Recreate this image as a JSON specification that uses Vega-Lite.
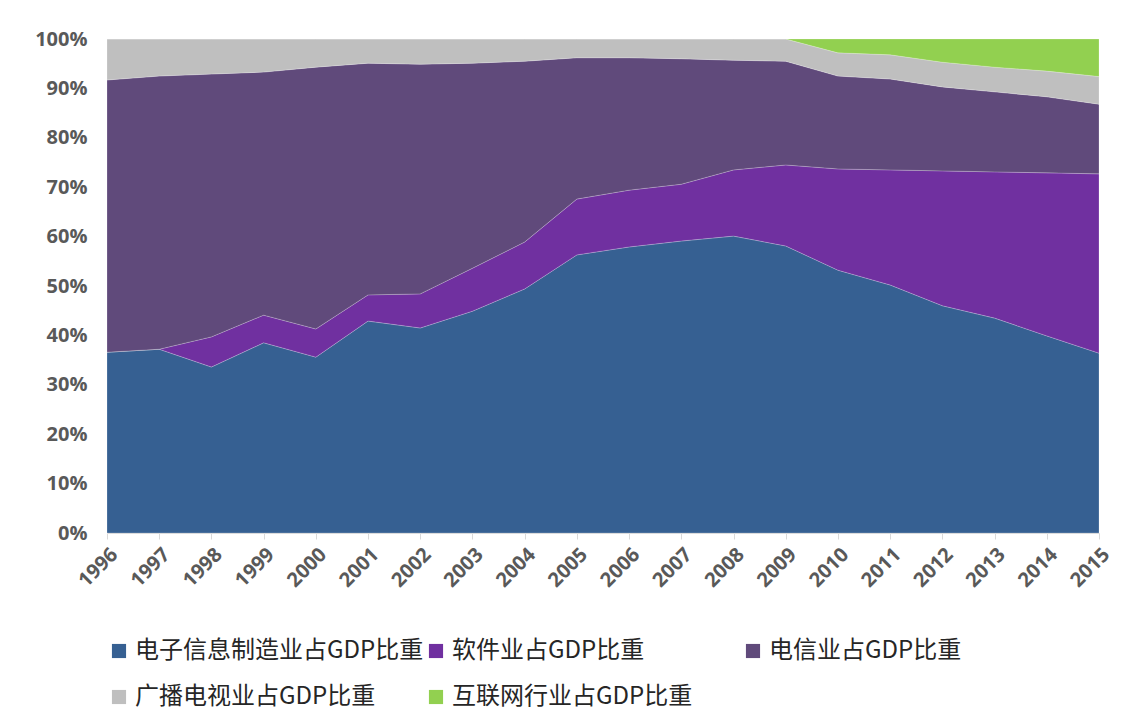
{
  "$schema": "https://vega.github.io/schema/vega-lite/v6.json",
  "width": 992,
  "height": 494,
  "autosize": {"type": "none"},
  "padding": {"left": 107, "top": 39, "right": 38, "bottom": 193},
  "background": "#ffffff",
  "config": {
    "view": {"stroke": null},
    "font": "Noto Sans CJK SC"
  },
  "data": {
    "values": [
      {"year": "1996", "series": "电子信息制造业占GDP比重", "value": 36.6},
      {"year": "1996", "series": "软件业占GDP比重", "value": 0},
      {"year": "1996", "series": "电信业占GDP比重", "value": 55.1},
      {"year": "1996", "series": "广播电视业占GDP比重", "value": 8.3},
      {"year": "1996", "series": "互联网行业占GDP比重", "value": 0},
      {"year": "1997", "series": "电子信息制造业占GDP比重", "value": 37.2},
      {"year": "1997", "series": "软件业占GDP比重", "value": 0},
      {"year": "1997", "series": "电信业占GDP比重", "value": 55.3},
      {"year": "1997", "series": "广播电视业占GDP比重", "value": 7.5},
      {"year": "1997", "series": "互联网行业占GDP比重", "value": 0},
      {"year": "1998", "series": "电子信息制造业占GDP比重", "value": 33.6},
      {"year": "1998", "series": "软件业占GDP比重", "value": 6.1},
      {"year": "1998", "series": "电信业占GDP比重", "value": 53.2},
      {"year": "1998", "series": "广播电视业占GDP比重", "value": 7.1},
      {"year": "1998", "series": "互联网行业占GDP比重", "value": 0},
      {"year": "1999", "series": "电子信息制造业占GDP比重", "value": 38.5},
      {"year": "1999", "series": "软件业占GDP比重", "value": 5.6},
      {"year": "1999", "series": "电信业占GDP比重", "value": 49.2},
      {"year": "1999", "series": "广播电视业占GDP比重", "value": 6.7},
      {"year": "1999", "series": "互联网行业占GDP比重", "value": 0},
      {"year": "2000", "series": "电子信息制造业占GDP比重", "value": 35.6},
      {"year": "2000", "series": "软件业占GDP比重", "value": 5.7},
      {"year": "2000", "series": "电信业占GDP比重", "value": 53.0},
      {"year": "2000", "series": "广播电视业占GDP比重", "value": 5.7},
      {"year": "2000", "series": "互联网行业占GDP比重", "value": 0},
      {"year": "2001", "series": "电子信息制造业占GDP比重", "value": 42.9},
      {"year": "2001", "series": "软件业占GDP比重", "value": 5.3},
      {"year": "2001", "series": "电信业占GDP比重", "value": 46.9},
      {"year": "2001", "series": "广播电视业占GDP比重", "value": 4.9},
      {"year": "2001", "series": "互联网行业占GDP比重", "value": 0},
      {"year": "2002", "series": "电子信息制造业占GDP比重", "value": 41.5},
      {"year": "2002", "series": "软件业占GDP比重", "value": 6.9},
      {"year": "2002", "series": "电信业占GDP比重", "value": 46.5},
      {"year": "2002", "series": "广播电视业占GDP比重", "value": 5.1},
      {"year": "2002", "series": "互联网行业占GDP比重", "value": 0},
      {"year": "2003", "series": "电子信息制造业占GDP比重", "value": 44.9},
      {"year": "2003", "series": "软件业占GDP比重", "value": 8.7},
      {"year": "2003", "series": "电信业占GDP比重", "value": 41.5},
      {"year": "2003", "series": "广播电视业占GDP比重", "value": 4.9},
      {"year": "2003", "series": "互联网行业占GDP比重", "value": 0},
      {"year": "2004", "series": "电子信息制造业占GDP比重", "value": 49.4},
      {"year": "2004", "series": "软件业占GDP比重", "value": 9.5},
      {"year": "2004", "series": "电信业占GDP比重", "value": 36.6},
      {"year": "2004", "series": "广播电视业占GDP比重", "value": 4.5},
      {"year": "2004", "series": "互联网行业占GDP比重", "value": 0},
      {"year": "2005", "series": "电子信息制造业占GDP比重", "value": 56.3},
      {"year": "2005", "series": "软件业占GDP比重", "value": 11.3},
      {"year": "2005", "series": "电信业占GDP比重", "value": 28.6},
      {"year": "2005", "series": "广播电视业占GDP比重", "value": 3.8},
      {"year": "2005", "series": "互联网行业占GDP比重", "value": 0},
      {"year": "2006", "series": "电子信息制造业占GDP比重", "value": 57.9},
      {"year": "2006", "series": "软件业占GDP比重", "value": 11.5},
      {"year": "2006", "series": "电信业占GDP比重", "value": 26.8},
      {"year": "2006", "series": "广播电视业占GDP比重", "value": 3.8},
      {"year": "2006", "series": "互联网行业占GDP比重", "value": 0},
      {"year": "2007", "series": "电子信息制造业占GDP比重", "value": 59.1},
      {"year": "2007", "series": "软件业占GDP比重", "value": 11.5},
      {"year": "2007", "series": "电信业占GDP比重", "value": 25.4},
      {"year": "2007", "series": "广播电视业占GDP比重", "value": 4.0},
      {"year": "2007", "series": "互联网行业占GDP比重", "value": 0},
      {"year": "2008", "series": "电子信息制造业占GDP比重", "value": 60.1},
      {"year": "2008", "series": "软件业占GDP比重", "value": 13.4},
      {"year": "2008", "series": "电信业占GDP比重", "value": 22.2},
      {"year": "2008", "series": "广播电视业占GDP比重", "value": 4.3},
      {"year": "2008", "series": "互联网行业占GDP比重", "value": 0},
      {"year": "2009", "series": "电子信息制造业占GDP比重", "value": 58.1},
      {"year": "2009", "series": "软件业占GDP比重", "value": 16.4},
      {"year": "2009", "series": "电信业占GDP比重", "value": 21.0},
      {"year": "2009", "series": "广播电视业占GDP比重", "value": 4.5},
      {"year": "2009", "series": "互联网行业占GDP比重", "value": 0},
      {"year": "2010", "series": "电子信息制造业占GDP比重", "value": 53.2},
      {"year": "2010", "series": "软件业占GDP比重", "value": 20.5},
      {"year": "2010", "series": "电信业占GDP比重", "value": 18.8},
      {"year": "2010", "series": "广播电视业占GDP比重", "value": 4.7},
      {"year": "2010", "series": "互联网行业占GDP比重", "value": 2.8},
      {"year": "2011", "series": "电子信息制造业占GDP比重", "value": 50.2},
      {"year": "2011", "series": "软件业占GDP比重", "value": 23.3},
      {"year": "2011", "series": "电信业占GDP比重", "value": 18.4},
      {"year": "2011", "series": "广播电视业占GDP比重", "value": 4.9},
      {"year": "2011", "series": "互联网行业占GDP比重", "value": 3.2},
      {"year": "2012", "series": "电子信息制造业占GDP比重", "value": 46.0},
      {"year": "2012", "series": "软件业占GDP比重", "value": 27.3},
      {"year": "2012", "series": "电信业占GDP比重", "value": 17.0},
      {"year": "2012", "series": "广播电视业占GDP比重", "value": 5.0},
      {"year": "2012", "series": "互联网行业占GDP比重", "value": 4.7},
      {"year": "2013", "series": "电子信息制造业占GDP比重", "value": 43.5},
      {"year": "2013", "series": "软件业占GDP比重", "value": 29.6},
      {"year": "2013", "series": "电信业占GDP比重", "value": 16.2},
      {"year": "2013", "series": "广播电视业占GDP比重", "value": 5.0},
      {"year": "2013", "series": "互联网行业占GDP比重", "value": 5.7},
      {"year": "2014", "series": "电子信息制造业占GDP比重", "value": 39.9},
      {"year": "2014", "series": "软件业占GDP比重", "value": 33.0},
      {"year": "2014", "series": "电信业占GDP比重", "value": 15.4},
      {"year": "2014", "series": "广播电视业占GDP比重", "value": 5.2},
      {"year": "2014", "series": "互联网行业占GDP比重", "value": 6.5},
      {"year": "2015", "series": "电子信息制造业占GDP比重", "value": 36.4},
      {"year": "2015", "series": "软件业占GDP比重", "value": 36.3},
      {"year": "2015", "series": "电信业占GDP比重", "value": 14.1},
      {"year": "2015", "series": "广播电视业占GDP比重", "value": 5.6},
      {"year": "2015", "series": "互联网行业占GDP比重", "value": 7.6}
    ]
  },
  "transform": [
    {"calculate": "indexof(['电子信息制造业占GDP比重', '软件业占GDP比重', '电信业占GDP比重', '广播电视业占GDP比重', '互联网行业占GDP比重'], datum.series)", "as": "stackOrder"}
  ],
  "mark": {"type": "area", "stroke": "#ffffff", "strokeWidth": 0.6, "strokeOpacity": 0.35},
  "encoding": {
    "x": {
      "field": "year",
      "type": "ordinal",
      "scale": {"type": "point", "padding": 0},
      "axis": {
        "title": null,
        "labelAngle": -45,
        "labelFontSize": 20,
        "labelFontWeight": "bold",
        "labelColor": "#595959",
        "labelFont": "Open Sans",
        "labelPadding": 5,
        "domainColor": "#d9d9d9",
        "tickColor": "#d9d9d9",
        "tickSize": 6,
        "grid": false
      }
    },
    "y": {
      "field": "value",
      "type": "quantitative",
      "stack": "normalize",
      "scale": {"domain": [0, 1]},
      "axis": {
        "title": null,
        "format": ".0%",
        "values": [0, 0.1, 0.2, 0.3, 0.4, 0.5, 0.6, 0.7, 0.8, 0.9, 1],
        "labelFontSize": 20,
        "labelFontWeight": "bold",
        "labelColor": "#595959",
        "labelFont": "Open Sans",
        "labelPadding": 20,
        "domain": false,
        "ticks": false,
        "grid": false
      }
    },
    "order": {"field": "stackOrder", "type": "quantitative", "sort": "ascending"},
    "color": {
      "field": "series",
      "type": "nominal",
      "sort": ["电子信息制造业占GDP比重", "软件业占GDP比重", "电信业占GDP比重", "广播电视业占GDP比重", "互联网行业占GDP比重"],
      "scale": {
        "domain": ["电子信息制造业占GDP比重", "软件业占GDP比重", "电信业占GDP比重", "广播电视业占GDP比重", "互联网行业占GDP比重"],
        "range": ["#366092", "#7030A0", "#604A7B", "#BFBFBF", "#92D050"]
      },
      "legend": {
        "title": null,
        "orient": "none",
        "legendX": 0,
        "legendY": 600,
        "direction": "horizontal",
        "columns": 3,
        "gridAlign": "all",
        "columnPadding": 0,
        "rowPadding": 22,
        "symbolType": "square",
        "symbolSize": 200,
        "symbolStrokeWidth": 0,
        "symbolOpacity": 1,
        "labelFontSize": 24,
        "labelColor": "#262626",
        "labelLimit": 400,
        "labelOffset": 4
      }
    }
  }
}
